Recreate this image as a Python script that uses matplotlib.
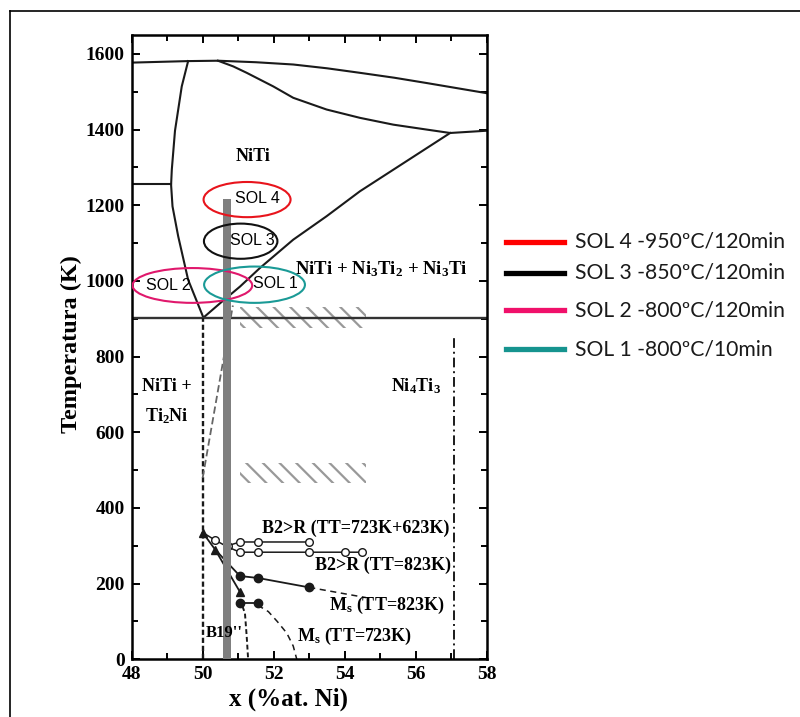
import matplotlib
matplotlib.use("Agg")
import matplotlib.pyplot as plt
from matplotlib.patches import Ellipse, Rectangle
from matplotlib.lines import Line2D

# fuentes
plt.rcParams['font.family'] = ['Liberation Serif', 'DejaVu Serif']
plt.rcParams['font.weight'] = 'bold'
plt.rcParams['axes.labelweight'] = 'bold'
plt.rcParams['mathtext.fontset'] = 'custom'
plt.rcParams['mathtext.rm'] = 'Liberation Serif:bold'
plt.rcParams['mathtext.it'] = 'Liberation Serif:bold'
plt.rcParams['mathtext.bf'] = 'Liberation Serif:bold'
plt.rcParams['hatch.linewidth'] = 1.6

# ---- datos leidos del diagrama ----
# liquidus superior
liq_top_x = [48.0, 49.59, 50.43, 51.5, 52.55, 53.5, 54.43, 55.4, 56.31, 57.95, 58.0]
liq_top_t = [1577, 1581, 1582, 1578, 1572, 1562, 1550, 1537, 1523, 1497, 1496]
# liquidus inferior (NiTi -> Ni3Ti)
liq_low_x = [50.43, 50.86, 51.24, 51.99, 52.55, 53.49, 54.43, 55.37, 56.31, 56.97, 58.0]
liq_low_t = [1582, 1567, 1550, 1514, 1484, 1453, 1431, 1413, 1400, 1391, 1397]
# solidus izquierdo
sol_left_x = [49.59, 49.41, 49.22, 49.13, 49.11, 49.15, 49.31, 49.59, 50.02]
sol_left_t = [1581, 1514, 1397, 1294, 1254, 1197, 1118, 1003, 903]
# solidus derecho
sol_right_x = [50.02, 50.49, 51.05, 51.61, 52.55, 53.49, 54.43, 55.37, 56.31, 56.97]
sol_right_t = [903, 941, 985, 1034, 1109, 1171, 1237, 1294, 1351, 1391]
# lineas horizontales
eut_x = [48.0, 49.11]
eut_t = [1256, 1256]
h900_x = [48.0, 58.0]
h900_t = [902, 902]
# verticales
v50_x = [50.0, 50.0]
v50_t = [0, 903]
v57_x = [57.08, 57.08]
v57_t = [0, 855]
diag_x = [50.0, 50.85]
diag_t = [480, 935]

# barra gris (composicion de la aleacion)
bar_x = 50.695
bar_top = 1217

# zonas rayadas
hatch_x = [51.05, 51.05]
hatch_t = [(876, 932), (466, 520)]
hatch_w = 3.55

# B2>R (TT=723K+623K)
b2r_a_x = [50.7, 51.05, 51.55, 53.0]
b2r_a_t = [300, 310, 310, 310]
# B2>R (TT=823K)
b2r_b_x = [50.0, 50.35, 50.7, 51.05, 51.55, 53.0, 54.0, 54.5]
b2r_b_t = [335, 315, 297, 283, 283, 283, 283, 283]
# triangulos
tri_x = [50.0, 50.35, 51.05]
tri_t = [335, 290, 178]
# Ms (TT=823K)
ms823_x = [50.35, 51.05, 51.55, 53.0]
ms823_t = [290, 220, 215, 190]
ms823_ext_x = [53.0, 54.6]
ms823_ext_t = [190, 163]
# Ms (TT=723K)
ms723_x = [51.05, 51.55]
ms723_t = [148, 148]
ms723_ext_x = [51.55, 51.85, 52.1, 52.37, 52.55, 52.65]
ms723_ext_t = [143, 126, 100, 69, 35, 0]
b19_x = [51.12, 51.19, 51.24, 51.28]
b19_t = [140, 122, 60, 0]

# elipses de los tratamientos
sol_names = ['SOL 4', 'SOL 3', 'SOL 2', 'SOL 1']
sol_cx = [51.25, 51.07, 49.71, 51.46]
sol_ct = [1215, 1105, 988, 990]
sol_w = [2.45, 2.07, 3.37, 2.84]
sol_h = [93, 93, 92, 96]
sol_colors = ['#e8141c', '#111111', '#e0186c', '#1a9a96']
sol_label_x = [51.54, 51.39, 49.02, 52.05]
sol_label_t = [1219, 1107, 987, 992]

legend_labels = ['SOL 4 -950ºC/120min', 'SOL 3 -850ºC/120min',
                 'SOL 2 -800ºC/120min', 'SOL 1 -800ºC/10min']
legend_colors = ['#ff0000', '#000000', '#f0106a', '#16948f']

# ---- figura ----
fig = plt.figure(figsize=(8, 7.17), dpi=100)
ax = fig.add_axes([0.1646, 0.0805, 0.4438, 0.8707])

lw = 1.5
k = '#1a1a1a'
ax.plot(liq_top_x, liq_top_t, color=k, lw=lw)
ax.plot(liq_low_x, liq_low_t, color=k, lw=lw)
ax.plot(sol_left_x, sol_left_t, color=k, lw=lw)
ax.plot(sol_right_x, sol_right_t, color=k, lw=lw)
ax.plot(eut_x, eut_t, color=k, lw=lw)
ax.plot(h900_x, h900_t, color='#333333', lw=1.7)
ax.plot(v50_x, v50_t, color=k, lw=1.7, ls=(0, (2.2, 1.2)))
ax.plot(v57_x, v57_t, color=k, lw=1.4, ls=(0, (5, 2, 1, 2)))
ax.plot(diag_x, diag_t, color='#666666', lw=1.3, ls=(0, (4, 2)))

for hx, (t0, t1) in zip(hatch_x, hatch_t):
    ax.add_patch(Rectangle((hx, t0), hatch_w, t1 - t0, fill=False,
                           hatch='\\\\', edgecolor='#999999', lw=0))

# series de transformacion
ax.plot(b2r_a_x, b2r_a_t, color=k, lw=1.1, marker='o', ms=5.5,
        mfc='white', mec=k, mew=1.0)
ax.plot(b2r_b_x, b2r_b_t, color=k, lw=1.1, marker='o', ms=5.5,
        mfc='white', mec=k, mew=1.0, markevery=[1, 3, 4, 5, 6, 7])
ax.plot(ms823_x, ms823_t, color=k, lw=1.3, marker='o', ms=6,
        mfc=k, mec=k, markevery=[1, 2, 3])
ax.plot(tri_x, tri_t, color=k, lw=1.3, marker='^', ms=6, mfc=k, mec=k)
ax.plot(ms823_ext_x, ms823_ext_t, color=k, lw=1.1, ls=(0, (4, 3)))
ax.plot(ms723_x, ms723_t, color=k, lw=1.3, marker='o', ms=6, mfc=k, mec=k)
ax.plot(ms723_ext_x, ms723_ext_t, color=k, lw=1.1, ls=(0, (4, 3)))
ax.plot(b19_x, b19_t, color=k, lw=1.4, ls=(0, (2.5, 1.5)))

# textos del diagrama
fs = 13
ax.text(51.41, 1330, 'NiTi', fontsize=fs, ha='center', va='center')
ax.text(55.04, 1031, r'NiTi + Ni$_3$Ti$_2$ + Ni$_3$Ti', fontsize=13.5,
        ha='center', va='center')
ax.text(48.99, 721, 'NiTi +', fontsize=fs, ha='center', va='center')
ax.text(48.99, 642, r'Ti$_2$Ni', fontsize=fs, ha='center', va='center')
ax.text(56.0, 721, r'Ni$_4$Ti$_3$', fontsize=fs, ha='center', va='center')
ax.text(54.32, 347, 'B2>R (TT=723K+623K)', fontsize=fs, ha='center', va='center')
ax.text(55.07, 247, 'B2>R (TT=823K)', fontsize=fs, ha='center', va='center')
ax.text(55.18, 141, r'M$_s$ (TT=823K)', fontsize=fs, ha='center', va='center')
ax.text(54.29, 60, r'M$_s$ (TT=723K)', fontsize=fs, ha='center', va='center')
ax.text(50.1, 69, "B19''", fontsize=12, ha='left', va='center', zorder=4)

# barra gris
ax.bar(bar_x, bar_top, width=0.23, color='#7f7f7f', zorder=3)

for i in range(len(sol_names)):
    ax.add_patch(Ellipse((sol_cx[i], sol_ct[i]), sol_w[i], sol_h[i], fill=False,
                         edgecolor=sol_colors[i], lw=1.5, zorder=4))
    ax.text(sol_label_x[i], sol_label_t[i], sol_names[i], fontsize=11.5,
            family=['Liberation Sans', 'DejaVu Sans'], weight='normal',
            ha='center', va='center', zorder=5)

ax.set_xlim(48, 58)
ax.set_ylim(0, 1650)
ax.set_xticks(range(48, 59, 2))
ax.set_xticks(range(48, 59, 1), minor=True)
ax.set_yticks(range(0, 1601, 200))
ax.set_yticks(range(0, 1601, 100), minor=True)
ax.tick_params(which='both', direction='in', top=True, right=True,
               labelsize=14, width=1.4)
ax.tick_params(which='major', length=6)
ax.tick_params(which='minor', length=4)
ax.tick_params(axis='x', pad=5)
ax.tick_params(axis='y', pad=5)
for s in ax.spines.values():
    s.set_linewidth(1.8)

ax.set_xlabel('x (%at. Ni)', fontsize=18)
ax.xaxis.set_label_coords(0.443, -0.046)
ax.set_ylabel('Temperatura (K)', fontsize=17.5)
ax.yaxis.set_label_coords(-0.14, 0.505)

# leyenda dibujada a mano
rows_y = [0.6629, 0.6197, 0.5676, 0.5128]
for yy, lab, col in zip(rows_y, legend_labels, legend_colors):
    fig.add_artist(Line2D([0.633, 0.705], [yy, yy], color=col, lw=3.8,
                          transform=fig.transFigure))
    fig.text(0.719, yy, lab, fontsize=15.2, family=['Lato', 'DejaVu Sans'],
             weight='normal', va='center', ha='left', color='#1a1a1a')

# marco exterior
fig.add_artist(Line2D([10 / 800, 1.0], [1 - 11 / 717, 1 - 11 / 717],
                      color='black', lw=1.2, transform=fig.transFigure))
fig.add_artist(Line2D([10 / 800, 10 / 800], [0.0, 1 - 11 / 717],
                      color='black', lw=1.2, transform=fig.transFigure))

fig.savefig('out.png', dpi=100)
